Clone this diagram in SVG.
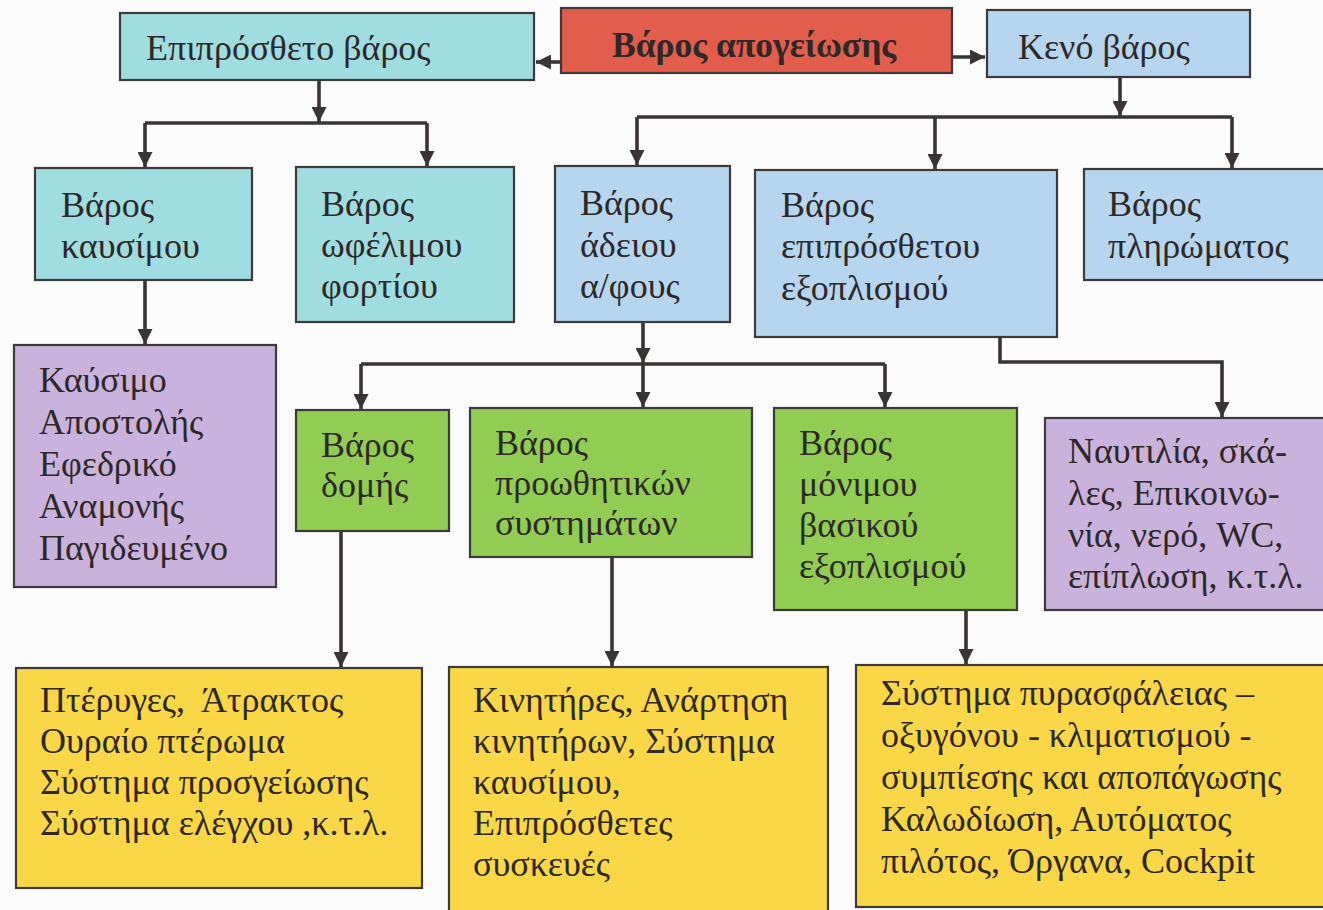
<svg xmlns="http://www.w3.org/2000/svg" width="1323" height="910" viewBox="0 0 1323 910">
<defs>
<marker id="ah" viewBox="0 0 10 10" refX="10" refY="5" markerWidth="15" markerHeight="15" markerUnits="userSpaceOnUse" orient="auto">
<path d="M0,0 L10,5 L0,10 z" fill="#3a3434"/>
</marker>
<style>
.box{stroke:#3e3a3a;stroke-width:2.2}
.cyan{fill:#a0dde0}
.red{fill:#e25d4b}
.blue{fill:#b6d5ef}
.purple{fill:#c9b3dc}
.green{fill:#91cd52}
.yellow{fill:#f9d746}
text{font-family:"Liberation Serif","Times New Roman",serif;font-size:36px;fill:#2e2828}
.bold{font-weight:bold;font-size:35.5px}
.pre{white-space:pre}
.conn{fill:none;stroke:#3a3434;stroke-width:3.6}
</style>
</defs>
<rect width="1323" height="910" fill="#fbfbfb"/>

<g id="connectors">
<path class="conn" d="M561,62 L536,62" marker-end="url(#ah)"/>
<path class="conn" d="M952,57 L985,57" marker-end="url(#ah)"/>
<path class="conn" d="M319,80 L319,122" marker-end="url(#ah)"/>
<path class="conn" d="M145,123 L427,123"/>
<path class="conn" d="M145,123 L145,167" marker-end="url(#ah)"/>
<path class="conn" d="M427,123 L427,166" marker-end="url(#ah)"/>
<path class="conn" d="M1120,77 L1120,116" marker-end="url(#ah)"/>
<path class="conn" d="M637,117 L1232,117"/>
<path class="conn" d="M637,117 L637,165" marker-end="url(#ah)"/>
<path class="conn" d="M935,117 L935,169" marker-end="url(#ah)"/>
<path class="conn" d="M1232,117 L1232,168" marker-end="url(#ah)"/>
<path class="conn" d="M145,280 L145,344" marker-end="url(#ah)"/>
<path class="conn" d="M643,322 L643,363" marker-end="url(#ah)"/>
<path class="conn" d="M643,364 L643,407" marker-end="url(#ah)"/>
<path class="conn" d="M361,364 L885,364"/>
<path class="conn" d="M361,364 L361,409" marker-end="url(#ah)"/>
<path class="conn" d="M885,364 L885,407" marker-end="url(#ah)"/>
<path class="conn" d="M1000,337 L1000,362 L1222,362 L1222,417" marker-end="url(#ah)"/>
<path class="conn" d="M341,531 L341,667" marker-end="url(#ah)"/>
<path class="conn" d="M612,557 L612,666" marker-end="url(#ah)"/>
<path class="conn" d="M966,610 L966,664" marker-end="url(#ah)"/>
</g>

<g id="n_takeoff">
<rect class="box red" x="561" y="8" width="391" height="65"/>
<text class="bold" x="612" y="57">Βάρος απογείωσης</text>
</g>
<g id="n_added">
<rect class="box cyan" x="120" y="13" width="414" height="67"/>
<text x="146" y="60">Επιπρόσθετο βάρος</text>
</g>
<g id="n_empty">
<rect class="box blue" x="987" y="10" width="263" height="67"/>
<text x="1018" y="59">Κενό βάρος</text>
</g>
<g id="n_fuel">
<rect class="box cyan" x="35" y="168" width="217" height="112"/>
<text x="61" y="217">Βάρος</text>
<text x="61" y="258">καυσίμου</text>
</g>
<g id="n_payload">
<rect class="box cyan" x="296" y="167" width="218" height="155"/>
<text x="321" y="216">Βάρος</text>
<text x="321" y="257">ωφέλιμου</text>
<text x="321" y="298">φορτίου</text>
</g>
<g id="n_emptyac">
<rect class="box blue" x="555" y="166" width="175" height="156"/>
<text x="580" y="215">Βάρος</text>
<text x="580" y="257">άδειου</text>
<text x="580" y="298">α/φους</text>
</g>
<g id="n_addequip">
<rect class="box blue" x="755" y="170" width="302" height="167"/>
<text x="781" y="217">Βάρος</text>
<text x="781" y="258">επιπρόσθετου</text>
<text x="781" y="300">εξοπλισμού</text>
</g>
<g id="n_crew">
<rect class="box blue" x="1084" y="169" width="260" height="111"/>
<text x="1108" y="216">Βάρος</text>
<text x="1108" y="258">πληρώματος</text>
</g>
<g id="n_fuelkinds">
<rect class="box purple" x="14" y="345" width="262" height="242"/>
<text x="39" y="392">Καύσιμο</text>
<text x="39" y="434">Αποστολής</text>
<text x="39" y="476">Εφεδρικό</text>
<text x="39" y="518">Αναμονής</text>
<text x="39" y="560">Παγιδευμένο</text>
</g>
<g id="n_struct">
<rect class="box green" x="296" y="410" width="153" height="121"/>
<text x="321" y="457">Βάρος</text>
<text x="321" y="497">δομής</text>
</g>
<g id="n_prop">
<rect class="box green" x="470" y="408" width="282" height="149"/>
<text x="495" y="455">Βάρος</text>
<text x="495" y="495">προωθητικών</text>
<text x="495" y="535">συστημάτων</text>
</g>
<g id="n_fixed">
<rect class="box green" x="774" y="408" width="243" height="202"/>
<text x="799" y="455">Βάρος</text>
<text x="799" y="496">μόνιμου</text>
<text x="799" y="537">βασικού</text>
<text x="799" y="578">εξοπλισμού</text>
</g>
<g id="n_misc">
<rect class="box purple" x="1045" y="418" width="290" height="192"/>
<text x="1068" y="463">Ναυτιλία, σκά-</text>
<text x="1068" y="505">λες, Επικοινω-</text>
<text x="1068" y="547">νία, νερό, WC,</text>
<text x="1068" y="588">επίπλωση, κ.τ.λ.</text>
</g>
<g id="n_structparts">
<rect class="box yellow" x="16" y="668" width="406" height="220"/>
<text class="pre" x="40" y="712">Πτέρυγες,  Άτρακτος</text>
<text x="40" y="753">Ουραίο πτέρωμα</text>
<text x="40" y="794">Σύστημα προσγείωσης</text>
<text x="40" y="835">Σύστημα ελέγχου ,κ.τ.λ.</text>
</g>
<g id="n_propparts">
<rect class="box yellow" x="449" y="667" width="379" height="260"/>
<text x="473" y="712">Κινητήρες, Ανάρτηση</text>
<text x="473" y="753">κινητήρων, Σύστημα</text>
<text x="473" y="794">καυσίμου,</text>
<text x="473" y="835">Επιπρόσθετες</text>
<text x="473" y="876">συσκευές</text>
</g>
<g id="n_fixedparts">
<rect class="box yellow" x="856" y="665" width="480" height="242"/>
<text x="881" y="705">Σύστημα πυρασφάλειας –</text>
<text x="881" y="747">οξυγόνου - κλιματισμού -</text>
<text x="881" y="789">συμπίεσης και αποπάγωσης</text>
<text x="881" y="831">Καλωδίωση, Αυτόματος</text>
<text x="881" y="873">πιλότος, Όργανα, Cockpit</text>
</g>
</svg>
